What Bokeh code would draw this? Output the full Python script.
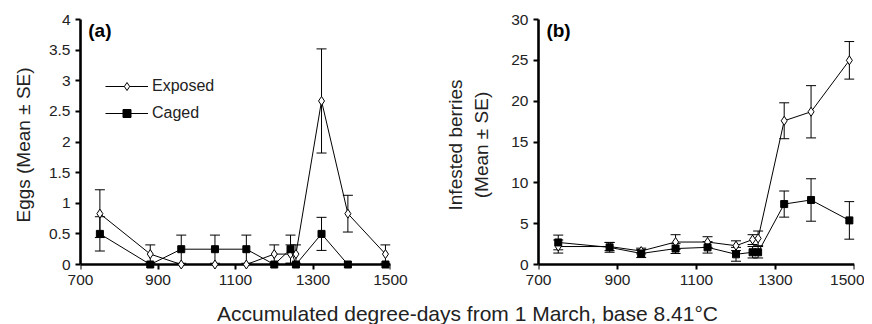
from bokeh.plotting import figure
from bokeh.models import (ColumnDataSource, Whisker, TeeHead, Legend, LegendItem,
                          Label, FixedTicker, NumeralTickFormatter, Range1d, LinearAxis)
from bokeh.layouts import row, column
from bokeh.embed import file_html
from bokeh.resources import INLINE

# ---- data ----
degree_days = [750, 880, 960, 1047, 1128, 1200, 1242, 1256, 1322, 1390, 1487]

eggs_exposed = [0.83, 0.17, 0, 0, 0, 0.17, 0.17, 0.17, 2.67, 0.83, 0.17]
eggs_exposed_se = [0.39, 0.15, 0, 0, 0, 0.15, 0.15, 0.15, 0.85, 0.30, 0.15]
eggs_caged = [0.5, 0, 0.25, 0.25, 0.25, 0, 0.25, 0, 0.5, 0, 0]
eggs_caged_se = [0.28, 0, 0.23, 0.23, 0.23, 0, 0.23, 0, 0.27, 0, 0]

berries_exposed = [2.2, 2.2, 1.65, 2.75, 2.75, 2.3, 3.05, 3.2, 17.6, 18.7, 25.0]
berries_exposed_se = [0.8, 0.5, 0.35, 0.9, 0.65, 0.6, 0.6, 0.9, 2.2, 3.2, 2.3]
berries_caged = [2.7, 2.1, 1.35, 1.95, 2.1, 1.25, 1.5, 1.5, 7.4, 7.9, 5.4]
berries_caged_se = [0.9, 0.6, 0.5, 0.6, 0.7, 0.85, 0.7, 0.7, 1.6, 2.6, 2.3]

x_ticks = [700, 900, 1100, 1300, 1500]
eggs_ticks = [0, 0.5, 1, 1.5, 2, 2.5, 3, 3.5, 4]
berries_ticks = [0, 5, 10, 15, 20, 25, 30]

FONT = "Liberation Sans"
TXT = "#222222"
PAD_PX = 6          # room below the zero line so markers at 0 are not clipped
PLOT_PX = 245       # pixel height from 0 to the top of the y range


def make_source(y, se):
    return ColumnDataSource(dict(
        x=degree_days, y=y,
        lo=[a - b for a, b in zip(y, se)],
        hi=[a + b for a, b in zip(y, se)]))


def panel(y_exp, se_exp, y_cag, se_cag, ymax, yticks, frame_w,
          border_l, border_r, ylabel, ylabel_standoff, tag, tag_y):
    pad = ymax * PAD_PX / PLOT_PX
    p = figure(output_backend="svg", toolbar_location=None,
               frame_width=frame_w, frame_height=PLOT_PX + PAD_PX,
               min_border_left=border_l, min_border_right=border_r,
               min_border_top=19, min_border_bottom=32,
               x_range=Range1d(700, 1500), y_range=Range1d(-pad, ymax))
    p.outline_line_color = None
    p.xgrid.visible = False
    p.ygrid.visible = False
    p.background_fill_color = "white"
    p.border_fill_color = "white"

    # y axis
    ya = p.yaxis[0]
    ya.bounds = (0, ymax)
    ya.axis_line_width = 2.6
    ya.axis_line_color = "black"
    ya.major_tick_line_width = 2
    ya.major_tick_line_color = "black"
    ya.major_tick_out = 5
    ya.major_tick_in = 0
    ya.minor_tick_line_color = None
    ya.major_label_text_font = FONT
    ya.major_label_text_font_size = "15.5px"
    ya.major_label_text_color = TXT
    ya.major_label_standoff = 5
    ya.ticker = FixedTicker(ticks=yticks)
    ya.formatter = NumeralTickFormatter(format="0.[0]")
    ya.axis_label = ylabel
    ya.axis_label_text_font = FONT
    ya.axis_label_text_font_size = "19px"
    ya.axis_label_text_font_style = "normal"
    ya.axis_label_text_color = TXT
    ya.axis_label_standoff = ylabel_standoff
    ya.axis_label_text_line_height = 1.25

    # x axis: labels only (frame bottom)
    xa = p.xaxis[0]
    xa.ticker = FixedTicker(ticks=x_ticks)
    xa.axis_line_color = None
    xa.major_tick_line_color = None
    xa.minor_tick_line_color = None
    xa.major_tick_out = 0
    xa.major_tick_in = 0
    xa.major_label_text_font = FONT
    xa.major_label_text_font_size = "15.5px"
    xa.major_label_text_color = TXT
    xa.major_label_standoff = 4

    # x axis line + ticks at zero
    x0 = LinearAxis(fixed_location=0, ticker=FixedTicker(ticks=x_ticks),
                    axis_line_width=2.6, axis_line_color="black",
                    major_tick_line_width=2, major_tick_line_color="black",
                    major_tick_out=5, major_tick_in=0,
                    minor_tick_line_color=None,
                    major_label_text_alpha=0, major_label_text_font_size="1px")
    x0.level = "underlay"
    p.add_layout(x0, "below")

    s_exp = make_source(y_exp, se_exp)
    s_cag = make_source(y_cag, se_cag)

    for s in (s_exp, s_cag):
        w = Whisker(source=s, base="x", upper="hi", lower="lo", dimension="height",
                    line_color="black", line_width=1,
                    upper_head=TeeHead(size=10, line_color="black", line_width=1),
                    lower_head=TeeHead(size=10, line_color="black", line_width=1))
        p.add_layout(w)

    l_exp = p.line("x", "y", source=s_exp, line_color="black", line_width=1)
    m_exp = p.scatter("x", "y", source=s_exp, marker="diamond", size=9,
                      fill_color="white", line_color="black", line_width=1)
    l_cag = p.line("x", "y", source=s_cag, line_color="black", line_width=1)
    m_cag = p.scatter("x", "y", source=s_cag, marker="square", size=7,
                      fill_color="black", line_color="black", line_width=1)

    p.add_layout(Label(x=720, y=tag_y, text=tag, text_font=FONT,
                       text_font_size="19px", text_font_style="bold",
                       text_color="black", text_baseline="middle"))
    return p, (l_exp, m_exp, l_cag, m_cag)


p1, r1 = panel(eggs_exposed, eggs_exposed_se, eggs_caged, eggs_caged_se,
               4, eggs_ticks, 310, 80, 48,
               "Eggs (Mean ± SE)", 12, "(a)", 3.82)
p2, r2 = panel(berries_exposed, berries_exposed_se, berries_caged, berries_caged_se,
               30, berries_ticks, 316, 100, 10,
               "Infested berries\n(Mean ± SE)", 16, "(b)", 28.65)

legend = Legend(items=[LegendItem(label="Exposed", renderers=[r1[0], r1[1]]),
                       LegendItem(label="Caged", renderers=[r1[2], r1[3]])],
                location=(25, 141 + PAD_PX), glyph_width=43, glyph_height=20,
                label_text_font=FONT, label_text_font_size="16px",
                label_text_color=TXT, label_standoff=4, spacing=7,
                padding=0, margin=0, border_line_color=None,
                background_fill_alpha=0)
p1.add_layout(legend)

p3 = figure(output_backend="svg", toolbar_location=None, width=864, height=22,
            min_border=0, min_border_top=0, min_border_bottom=0,
            min_border_left=0, min_border_right=0,
            x_axis_type=None, y_axis_type=None,
            x_range=Range1d(0, 864), y_range=Range1d(0, 22))
p3.outline_line_color = None
p3.grid.visible = False
p3.add_layout(Label(x=467, y=11, text="Accumulated degree-days from 1 March, base 8.41°C",
                    text_font=FONT, text_font_size="21px", text_color=TXT,
                    text_align="center", text_baseline="middle"))

layout = column(row(p1, p2, spacing=0), p3, spacing=0)
open("out.html", "w").write(file_html(layout, INLINE))
